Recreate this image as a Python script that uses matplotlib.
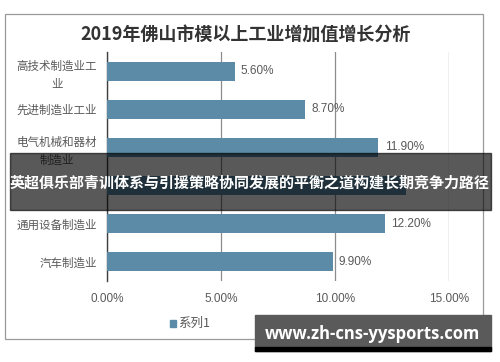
import matplotlib
matplotlib.use("Agg")
import matplotlib.pyplot as plt
from matplotlib.patches import Rectangle

categories = ["高技术制造业工\n业", "先进制造业工业", "电气机械和器材\n制造业", "金属制品业", "通用设备制造业", "汽车制造业"]
values = [5.60, 8.70, 11.90, 13.10, 12.20, 9.90]
hidden_under_banner = [False, False, False, True, False, False]
xticks = [0, 5, 10, 15]
xtick_labels = ["0.00%", "5.00%", "10.00%", "15.00%"]
title = "2019年佛山市模以上工业增加值增长分析"
series_name = "系列1"
banner = "英超俱乐部青训体系与引援策略协同发展的平衡之道构建长期竞争力路径"
watermark = "www.zh-cns-yysports.com"

CJK = ["Noto Sans CJK SC", "DejaVu Sans"]
NUM = ["Liberation Sans", "Noto Sans CJK SC"]
W, H = 500, 362
bar_color = "#5b8ba6"
grey_text = "#595959"

fig = plt.figure(figsize=(W / 100, H / 100), dpi=100)
fig.patch.set_facecolor("white")

def fx(px):
    return px / W

def fy(py):
    return 1 - py / H

# outer chart border
fig.patches.append(Rectangle((fx(5), fy(339)), fx(483) - fx(5), fy(14) - fy(339),
                             transform=fig.transFigure, fill=False, edgecolor="#9a9a9a", lw=0.9))

ax = fig.add_axes([fx(107), fy(281), fx(449) - fx(107), fy(52) - fy(281)])
ypos = list(range(len(categories)))
ax.barh(ypos, values, height=0.5, color=bar_color, zorder=3)
ax.set_ylim(len(categories) - 0.5, -0.5)
ax.set_xlim(0, 15)
ax.set_xticks(xticks)
ax.set_xticklabels(xtick_labels, family=NUM, fontsize=8.5, color=grey_text)
ax.set_yticks(ypos)
ax.set_yticklabels(["" if h else c for c, h in zip(categories, hidden_under_banner)],
                   family=CJK, fontsize=8.3, color=grey_text, linespacing=1.5)
for lbl in ax.get_yticklabels():
    lbl.set_horizontalalignment("right")
    lbl.set_multialignment("center")
ax.tick_params(axis="y", length=0, pad=7)
ax.tick_params(axis="x", length=0, pad=9)
ax.grid(axis="x", color="#8c8c8c", lw=0.9, zorder=0)
for s in ["top", "right", "bottom"]:
    ax.spines[s].set_visible(False)
ax.spines["left"].set_color("#404040")
ax.spines["left"].set_linewidth(1.0)
ax.set_facecolor("none")

for y, v, h in zip(ypos, values, hidden_under_banner):
    if h:
        continue
    ax.annotate(f"{v:.2f}%", (v, y), xytext=(4.5, 0), textcoords="offset points",
                va="center", ha="left", family=NUM, fontsize=8.5, color=grey_text)

fig.text(0.5 * (fx(80) + fx(412)), fy(35), title, ha="center", va="center",
         family=CJK, fontsize=13, fontweight="bold", color="#333333")

# legend
fig.patches.append(Rectangle((fx(170), fy(327)), fx(176) - fx(170), fy(320) - fy(327),
                             transform=fig.transFigure, color=bar_color))
fig.text(fx(178), fy(323.5), series_name, ha="left", va="center",
         family=CJK, fontsize=9, color=grey_text)

# overlay banner
fig.patches.append(Rectangle((fx(10), fy(210)), fx(491) - fx(10), fy(153) - fy(210),
                             transform=fig.transFigure, color="black", alpha=0.65, zorder=10))
fig.text(fx(250), fy(183), banner, ha="center", va="center", family=CJK,
         fontsize=10.8, fontweight="bold", color="white", zorder=11)

# watermark
fig.patches.append(Rectangle((fx(255), fy(351)), fx(491) - fx(255), fy(315) - fy(351),
                             transform=fig.transFigure, color="#5a5a5a", zorder=10))
fig.patches.append(Rectangle((fx(255), fy(351)), fx(491) - fx(255), fy(347) - fy(351),
                             transform=fig.transFigure, color="black", zorder=10))
fig.text(fx(372.5), fy(334), watermark, ha="center", va="center", family=["Open Sans", "DejaVu Sans"],
         fontsize=12, fontweight="bold", color="white", zorder=11)

fig.savefig("out.png", dpi=100, facecolor="white")
